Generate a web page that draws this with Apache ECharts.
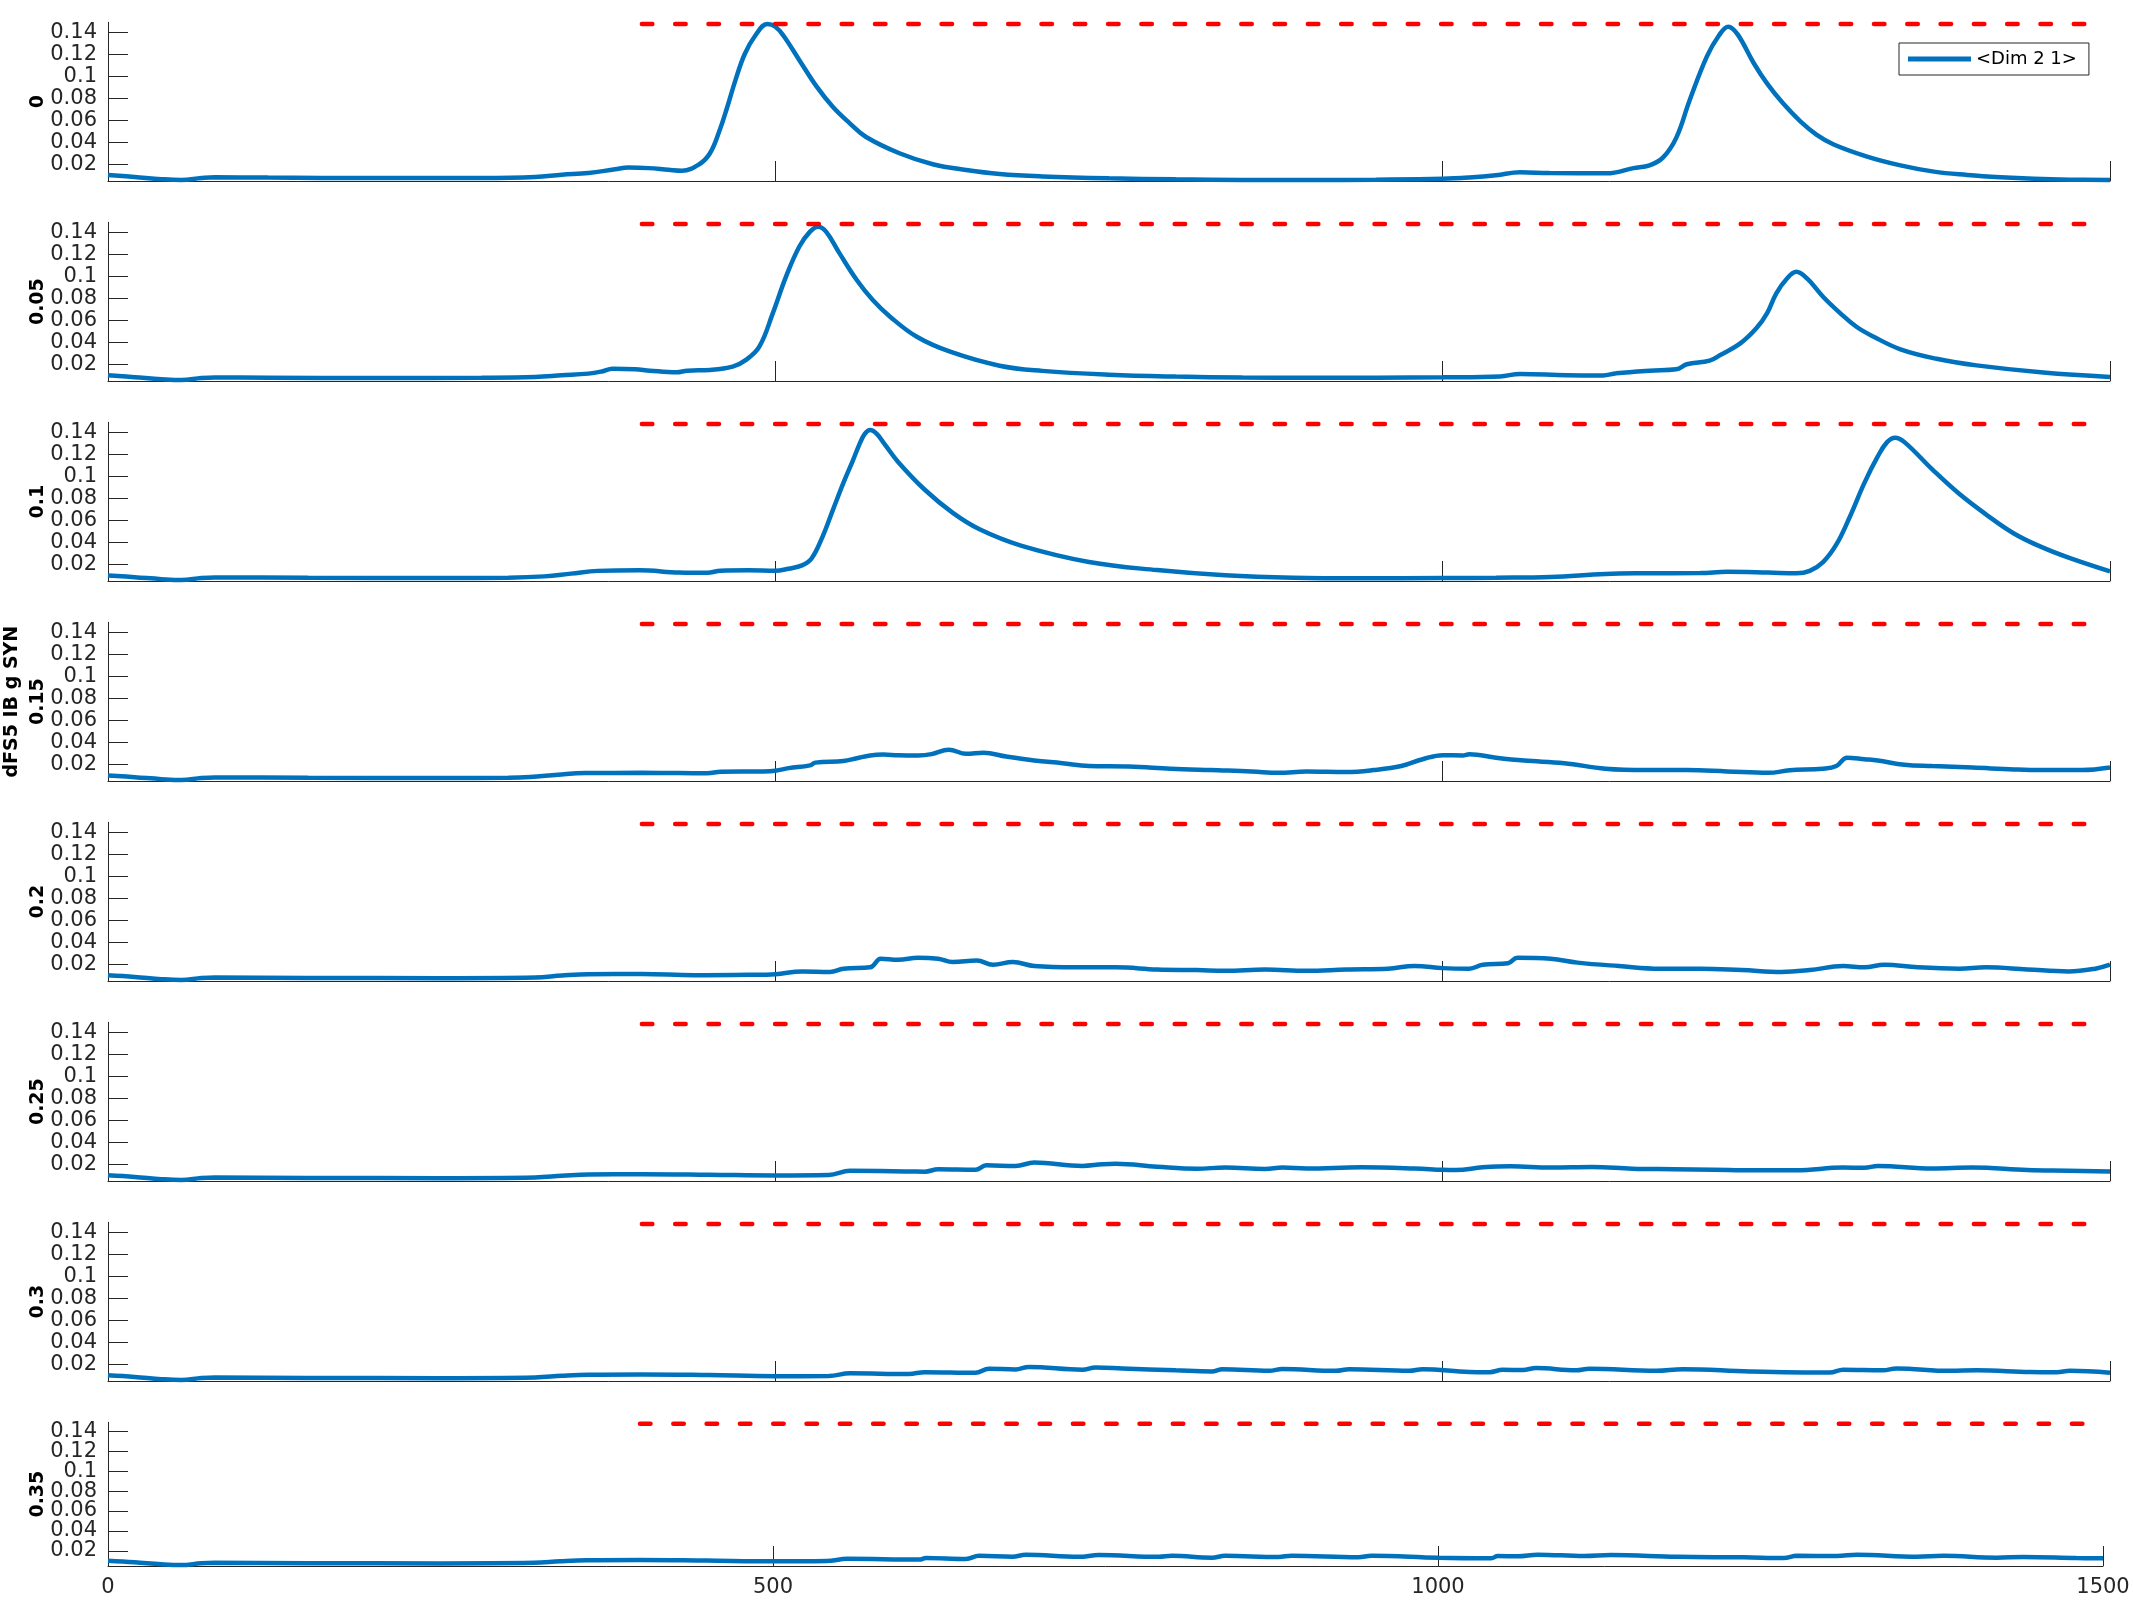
<!DOCTYPE html>
<html><head><meta charset="utf-8">
<script src="https://cdn.jsdelivr.net/npm/echarts@6/dist/echarts.min.js"></script>
<style>html,body{margin:0;padding:0;background:#fff}#c{width:2133px;height:1600px}</style>
</head><body><div id="c"></div><script>
// ---- data ----
const panelLabels = ['0', '0.05', '0.1', 'dFS5 IB g SYN\n0.15', '0.2', '0.25', '0.3', '0.35'];
const seriesName = '<Dim 2 1>';
const yTickValues = [0.02, 0.04, 0.06, 0.08, 0.1, 0.12, 0.14];
const xTickInterval = 500;
const xRange = [0, 1500];
const yRange = [0.0048, 0.149];
const thresholdY = 0.1475;
const thresholdX = [400, 1485];

const curve0 = [[0,.0103],[20,.0085],[40,.0065],[55,.0057],[70,.0075],[80,.0082],[120,.0079],[200,.0075],[280,.0076],[320,.0085],[340,.0105],[360,.0120],[380,.0155],[390,.0170],[405,.0165],[420,.0150],[430,.0142],[443,.0200],[451,.0300],[458,.0500],[464,.0720],[470,.0960],[477,.1200],[485,.1370],[494,.1475],[500,.1450],[506,.1370],[518,.1146],[531,.0905],[543,.0723],[556,.0570],[568,.0448],[593,.0300],[618,.0200],[643,.0148],[668,.0112],[700,.0090],[750,.0072],[800,.0063],[850,.0058],[900,.0057],[950,.0060],[1000,.0068],[1020,.0080],[1040,.0100],[1058,.0127],[1080,.0120],[1123,.0118],[1143,.0165],[1155,.0190],[1165,.0260],[1175,.0440],[1185,.0780],[1198,.1180],[1207,.1370],[1214,.1450],[1221,.1380],[1233,.1120],[1243,.0935],[1255,.0754],[1268,.0590],[1280,.0470],[1293,.0380],[1318,.0270],[1343,.0190],[1368,.0133],[1393,.0103],[1418,.0082],[1443,.0068],[1470,.0060],[1500,.0057]];

const curve1 = [[0,.0100],[20,.0083],[40,.0065],[55,.0057],[70,.0075],[80,.0080],[120,.0078],[200,.0075],[280,.0078],[320,.0085],[340,.0100],[360,.0115],[370,.0135],[378,.0160],[395,.0155],[406,.0142],[426,.0127],[434,.0142],[451,.0148],[468,.0178],[478,.0240],[488,.0360],[498,.0660],[508,.0996],[518,.1270],[526,.1405],[532,.1450],[538,.1405],[548,.1210],[561,.0966],[573,.0784],[586,.0632],[606,.0450],[631,.0314],[668,.0187],[700,.0140],[750,.0105],[800,.0088],[850,.0080],[900,.0077],[950,.0078],[1000,.0082],[1043,.0090],[1058,.0112],[1093,.0100],[1120,.0098],[1130,.0118],[1155,.0142],[1175,.0154],[1183,.0200],[1200,.0233],[1208,.0284],[1223,.0390],[1235,.0527],[1243,.0663],[1250,.0845],[1258,.0980],[1265,.1040],[1273,.0980],[1285,.0814],[1298,.0663],[1310,.0541],[1323,.0450],[1343,.0336],[1370,.0250],[1400,.0190],[1450,.0125],[1500,.0085]];

const curve2 = [[0,.0098],[20,.0083],[40,.0065],[55,.0057],[70,.0075],[80,.0080],[150,.0077],[250,.0075],[300,.0078],[327,.0090],[347,.0115],[367,.0140],[398,.0145],[428,.0125],[449,.0122],[459,.0142],[480,.0145],[500,.0140],[510,.0160],[520,.0190],[527,.0250],[535,.0440],[543,.0690],[551,.0940],[558,.1140],[563,.1290],[567,.1385],[571,.1420],[576,.1385],[582,.1290],[592,.1130],[612,.0877],[633,.0667],[653,.0518],[684,.0370],[735,.0221],[786,.0147],[837,.0100],[888,.0078],[939,.0073],[1000,.0075],[1040,.0078],[1081,.0085],[1122,.0112],[1152,.0118],[1193,.0120],[1213,.0132],[1244,.0125],[1265,.0118],[1275,.0140],[1285,.0220],[1295,.0380],[1305,.0630],[1316,.0940],[1326,.1180],[1333,.1310],[1339,.1350],[1346,.1310],[1367,.1060],[1387,.0840],[1407,.0654],[1428,.0480],[1448,.0360],[1469,.0260],[1500,.0135]];

const curve3 = [[0,.0098],[20,.0083],[40,.0065],[55,.0057],[70,.0075],[80,.0080],[150,.0077],[250,.0075],[300,.0078],[316,.0085],[337,.0105],[357,.0120],[400,.0122],[428,.0120],[449,.0118],[459,.0132],[490,.0135],[500,.0142],[510,.0165],[526,.0190],[530,.0215],[551,.0230],[561,.0255],[571,.0280],[581,.0288],[592,.0282],[607,.0280],[617,.0292],[630,.0333],[643,.0295],[656,.0305],[673,.0270],[694,.0234],[715,.0210],[735,.0184],[765,.0180],[796,.0160],[826,.0147],[857,.0135],[877,.0122],[898,.0135],[928,.0130],[948,.0147],[969,.0184],[985,.0246],[1000,.0283],[1015,.0280],[1020,.0292],[1040,.0260],[1061,.0234],[1091,.0210],[1122,.0160],[1152,.0147],[1183,.0147],[1213,.0135],[1244,.0122],[1260,.0145],[1285,.0160],[1295,.0184],[1303,.0260],[1316,.0246],[1326,.0234],[1346,.0196],[1367,.0184],[1397,.0170],[1428,.0153],[1448,.0147],[1479,.0147],[1500,.0170]];

const curve4 = [[0,.0100],[20,.0085],[40,.0065],[55,.0057],[70,.0075],[80,.0080],[150,.0076],[250,.0074],[320,.0080],[340,.0098],[360,.0110],[400,.0112],[439,.0100],[480,.0104],[500,.0110],[520,.0135],[541,.0130],[551,.0160],[571,.0172],[579,.0250],[592,.0240],[607,.0260],[622,.0250],[633,.0220],[651,.0234],[663,.0196],[678,.0220],[694,.0184],[725,.0172],[755,.0172],[786,.0153],[816,.0147],[837,.0140],[867,.0153],[898,.0140],[928,.0153],[959,.0160],[979,.0184],[1000,.0165],[1020,.0160],[1030,.0196],[1049,.0210],[1056,.0260],[1081,.0250],[1101,.0215],[1132,.0184],[1163,.0160],[1193,.0160],[1224,.0147],[1254,.0130],[1275,.0147],[1300,.0184],[1316,.0172],[1331,.0196],[1356,.0172],[1387,.0160],[1407,.0172],[1438,.0153],[1469,.0135],[1489,.0160],[1500,.0196]];

const curve5 = [[0,.0100],[20,.0085],[40,.0065],[55,.0057],[70,.0075],[80,.0080],[150,.0076],[250,.0074],[320,.0080],[340,.0095],[360,.0108],[400,.0110],[450,.0105],[500,.0098],[540,.0102],[556,.0140],[600,.0135],[612,.0132],[622,.0155],[650,.0150],[658,.0190],[680,.0185],[694,.0215],[730,.0185],[745,.0200],[755,.0205],[786,.0178],[816,.0160],[837,.0170],[867,.0158],[880,.0170],[898,.0162],[939,.0172],[979,.0162],[1000,.0150],[1010,.0148],[1030,.0172],[1051,.0182],[1081,.0170],[1112,.0175],[1142,.0160],[1173,.0155],[1203,.0150],[1234,.0145],[1265,.0145],[1300,.0170],[1316,.0168],[1326,.0184],[1367,.0162],[1397,.0170],[1438,.0148],[1469,.0142],[1500,.0135]];

const curve6 = [[0,.0100],[20,.0085],[40,.0065],[55,.0057],[70,.0075],[80,.0080],[150,.0076],[250,.0074],[320,.0080],[340,.0095],[360,.0105],[400,.0108],[450,.0102],[500,.0092],[540,.0094],[556,.0118],[600,.0112],[612,.0128],[650,.0122],[660,.0160],[680,.0152],[690,.0176],[730,.0150],[740,.0170],[760,.0162],[800,.0145],[827,.0135],[835,.0155],[870,.0140],[880,.0158],[920,.0140],[930,.0155],[975,.0140],[985,.0155],[1020,.0130],[1035,.0128],[1045,.0150],[1060,.0148],[1070,.0165],[1100,.0145],[1110,.0160],[1160,.0140],[1180,.0155],[1230,.0135],[1290,.0125],[1300,.0150],[1330,.0145],[1340,.0162],[1380,.0140],[1400,.0145],[1440,.0130],[1460,.0128],[1470,.0140],[1500,.0122]];

const curve7 = [[0,.0100],[20,.0085],[40,.0065],[55,.0057],[70,.0075],[80,.0080],[150,.0076],[250,.0074],[320,.0080],[340,.0095],[360,.0105],[400,.0108],[450,.0102],[500,.0095],[540,.0098],[556,.0120],[610,.0112],[615,.0128],[645,.0118],[655,.0150],[680,.0142],[690,.0160],[730,.0140],[745,.0158],[790,.0140],[800,.0150],[830,.0132],[840,.0150],[880,.0138],[890,.0152],[940,.0136],[950,.0150],[1000,.0130],[1040,.0125],[1045,.0148],[1060,.0145],[1075,.0162],[1110,.0148],[1130,.0158],[1180,.0140],[1230,.0135],[1260,.0128],[1270,.0150],[1300,.0148],[1315,.0162],[1360,.0142],[1380,.0150],[1420,.0132],[1440,.0138],[1480,.0128],[1500,.0125]];

const curves = [curve0, curve1, curve2, curve3, curve4, curve5, curve6, curve7];

// ---- chart ----
const chart = echarts.init(document.getElementById('c'), null, {renderer: 'canvas'});
const ink = '#262626';
const grids = [], xAxes = [], yAxes = [], series = [];
// blank guard labels at the axis ends so ECharts' min/max-overlap logic only drops those
const yLabelValues = [yRange[0]].concat(yTickValues, [yRange[1]]);
const fmtY = v => (yTickValues.some(t => Math.abs(t - v) < 1e-9) ? String(parseFloat(Number(v).toFixed(2))) : '');
const fmtX = v => String(v);
for (let i = 0; i < 8; i++) {
  const last = i === 7;
  grids.push({left: 108, top: 22.3 + 200 * i, width: last ? 1995 : 2002, height: last ? 143.7 : 158.7,
    containLabel: false, outerBoundsMode: 'none'});
  xAxes.push({
    type: 'value', gridIndex: i, min: xRange[0], max: xRange[1], interval: xTickInterval,
    axisLine: {show: true, onZero: false, lineStyle: {color: ink, width: 1}},
    axisTick: {show: true, inside: true, length: 20, lineStyle: {color: ink, width: 1}},
    axisLabel: {show: last, fontSize: 21, color: ink, margin: 11, formatter: fmtX, fontFamily: 'DejaVu Sans'},
    splitLine: {show: false}
  });
  yAxes.push({
    type: 'value', gridIndex: i, min: yRange[0], max: yRange[1],
    name: panelLabels[i], nameLocation: 'middle', nameGap: 57, nameRotate: 90, nameMoveOverlap: false,
    nameTextStyle: {fontWeight: 'bold', fontSize: 19, color: '#000', lineHeight: 26, fontFamily: 'DejaVu Sans'},
    axisLine: {show: true, onZero: false, lineStyle: {color: ink, width: 1}},
    axisTick: {show: true, inside: true, length: 20, lineStyle: {color: ink, width: 1}, customValues: yTickValues},
    axisLabel: {show: true, customValues: yLabelValues, formatter: fmtY, fontSize: 21, color: ink, margin: 11,
      hideOverlap: false, fontFamily: 'DejaVu Sans'},
    splitLine: {show: false}
  });
  series.push({
    type: 'line', name: seriesName, xAxisIndex: i, yAxisIndex: i, data: curves[i],
    symbol: 'none', showSymbol: false, smooth: 0.4,
    lineStyle: {color: '#0072BD', width: 4.5}, itemStyle: {color: '#0072BD'}, z: 3
  });
  series.push({
    type: 'line', name: 'threshold', xAxisIndex: i, yAxisIndex: i,
    data: thresholdX.map(x => [x, thresholdY]), symbol: 'none', showSymbol: false,
    lineStyle: {color: '#FF0000', width: 4.5, type: [10.5, 22.8], cap: 'round'},
    itemStyle: {color: '#FF0000'}, z: 4
  });
}

chart.setOption({
  animation: false,
  backgroundColor: '#fff',
  textStyle: {fontFamily: 'DejaVu Sans'},
  grid: grids, xAxis: xAxes, yAxis: yAxes, series: series,
  legend: {
    show: true, left: 1899, top: 43, orient: 'horizontal',
    data: [{name: seriesName, icon: 'rect'}],
    itemWidth: 63, itemHeight: 5, padding: [7, 12, 7, 9],
    borderColor: ink, borderWidth: 1, backgroundColor: '#fff',
    textStyle: {fontSize: 18, color: '#000', fontFamily: 'DejaVu Sans'}
  }
});
</script></body></html>
